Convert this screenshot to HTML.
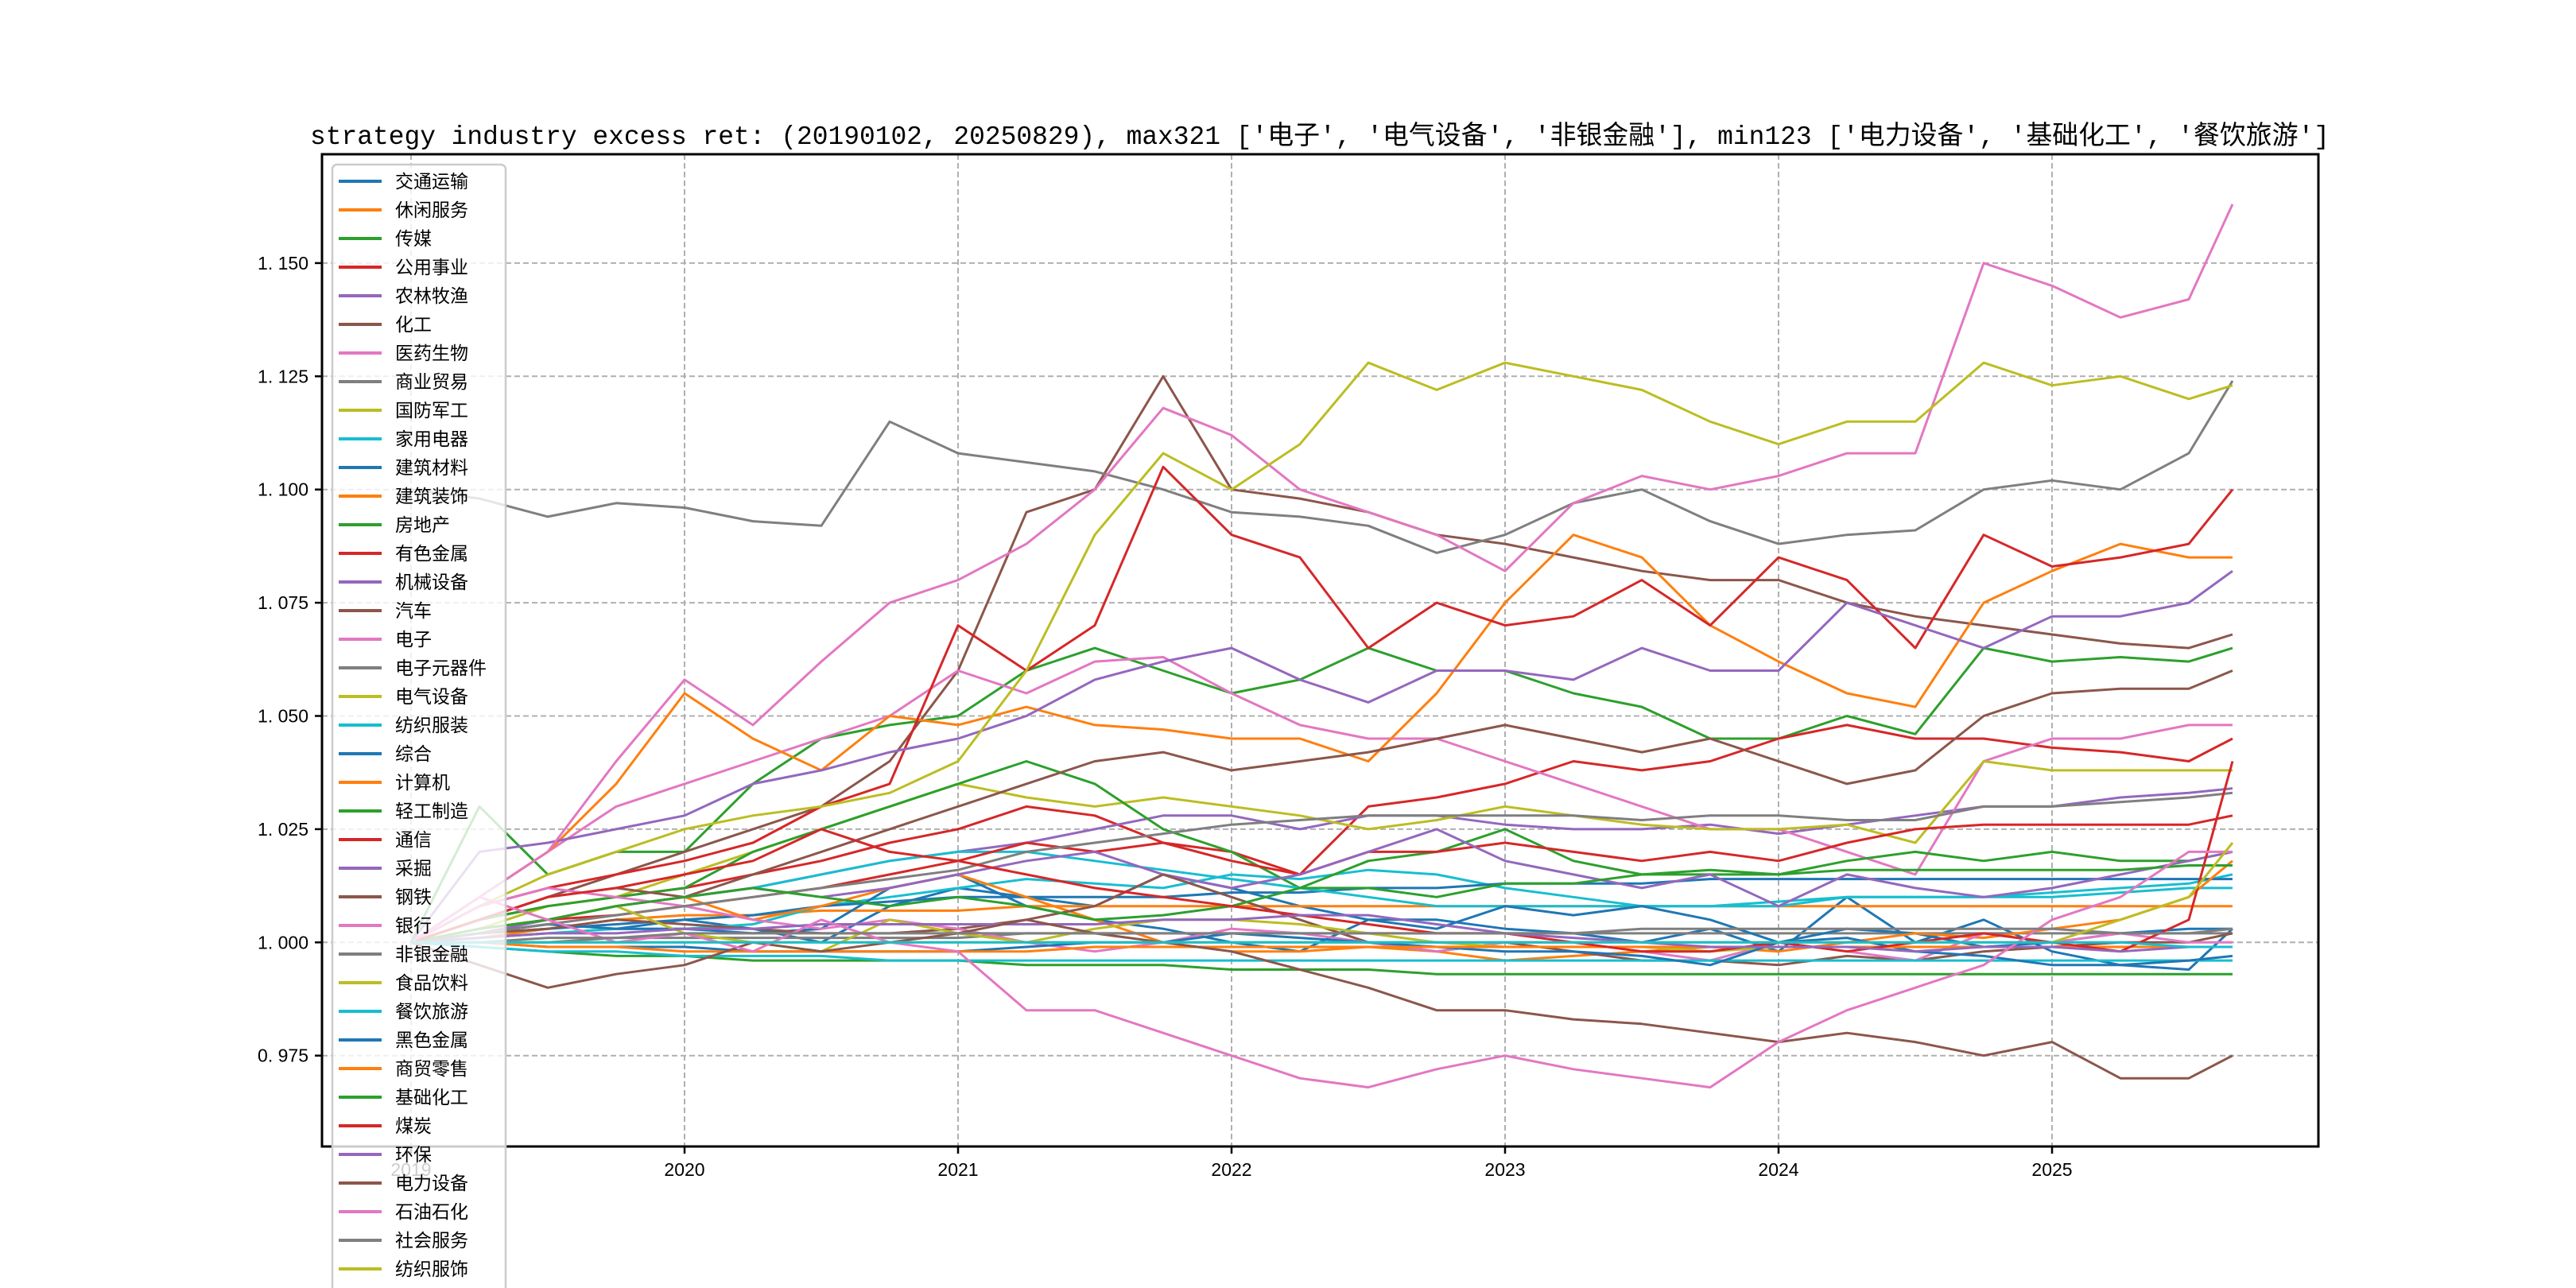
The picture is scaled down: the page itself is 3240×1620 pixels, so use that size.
<!DOCTYPE html>
<html><head><meta charset="utf-8">
<style>
html,body{margin:0;padding:0;background:#fff;}
svg{display:block;}
</style></head>
<body>
<svg id="chart" width="3240" height="1620" viewBox="0 0 3240 1620" xmlns="http://www.w3.org/2000/svg">
<rect x="0" y="0" width="3240" height="1620" fill="#fff"/>
<text x="1660" y="181" text-anchor="middle" font-size="33" textLength="2540" lengthAdjust="spacingAndGlyphs" font-family="'Liberation Mono','Noto Sans CJK SC',monospace" fill="#000">strategy industry excess ret: (20190102, 20250829), max321 ['电子', '电气设备', '非银金融'], min123 ['电力设备', '基础化工', '餐饮旅游']</text>
<g id="grid"></g>
<g id="series"></g>
<g id="axes"></g>
<g id="legend"></g>
</svg>
<script>
const dates = [2019.0,2019.25,2019.5,2019.75,2020.0,2020.25,2020.5,2020.75,2021.0,2021.25,2021.5,2021.75,2022.0,2022.25,2022.5,2022.75,2023.0,2023.25,2023.5,2023.75,2024.0,2024.25,2024.5,2024.75,2025.0,2025.25,2025.5,2025.66];
const yTicks = [0.975,1.000,1.025,1.050,1.075,1.100,1.125,1.150];
const yTickLabels = ["0. 975","1. 000","1. 025","1. 050","1. 075","1. 100","1. 125","1. 150"];
const xTicks = [2019,2020,2021,2022,2023,2024,2025];
const xTickLabels = ["2019","2020","2021","2022","2023","2024","2025"];
const names = ["交通运输","休闲服务","传媒","公用事业","农林牧渔","化工","医药生物","商业贸易","国防军工","家用电器","建筑材料","建筑装饰","房地产","有色金属","机械设备","汽车","电子","电子元器件","电气设备","纺织服装","综合","计算机","轻工制造","通信","采掘","钢铁","银行","非银金融","食品饮料","餐饮旅游","黑色金属","商贸零售","基础化工","煤炭","环保","电力设备","石油石化","社会服务","纺织服饰","美容护理"];
const s00 = [1.000,1.002,1.004,1.003,1.005,1.003,1.000,1.008,1.012,1.010,1.008,1.015,1.012,1.008,1.005,1.005,1.003,1.002,1.000,1.003,0.998,1.010,1.000,1.005,0.998,0.995,0.994,1.003];
const s01 = [1.000,1.001,1.003,1.005,1.006,1.006,1.007,1.007,1.007,1.008,1.008,1.008,1.008,1.008,1.008,1.008,1.008,1.008,1.008,1.008,1.008,1.008,1.008,1.008,1.008,1.008,1.008,1.008];
const s02 = [1.000,1.030,1.015,1.020,1.020,1.035,1.045,1.048,1.050,1.060,1.065,1.060,1.055,1.058,1.065,1.060,1.060,1.055,1.052,1.045,1.045,1.050,1.046,1.065,1.062,1.063,1.062,1.065];
const s03 = [1.000,1.005,1.008,1.010,1.012,1.015,1.018,1.022,1.025,1.030,1.028,1.022,1.020,1.015,1.030,1.032,1.035,1.040,1.038,1.040,1.045,1.048,1.045,1.045,1.043,1.042,1.040,1.045];
const s04 = [1.000,1.002,1.005,1.008,1.010,1.012,1.015,1.018,1.020,1.022,1.025,1.028,1.028,1.025,1.028,1.028,1.026,1.025,1.025,1.026,1.024,1.026,1.028,1.030,1.030,1.032,1.033,1.034];
const s05 = [1.000,1.005,1.010,1.015,1.020,1.025,1.030,1.040,1.060,1.095,1.100,1.125,1.100,1.098,1.095,1.090,1.088,1.085,1.082,1.080,1.080,1.075,1.072,1.070,1.068,1.066,1.065,1.068];
const s06 = [1.000,1.010,1.020,1.030,1.035,1.040,1.045,1.050,1.060,1.055,1.062,1.063,1.055,1.048,1.045,1.045,1.040,1.035,1.030,1.025,1.025,1.020,1.015,1.040,1.045,1.045,1.048,1.048];
const s07 = [1.100,1.098,1.094,1.097,1.096,1.093,1.092,1.115,1.108,1.106,1.104,1.100,1.095,1.094,1.092,1.086,1.090,1.097,1.100,1.093,1.088,1.090,1.091,1.100,1.102,1.100,1.108,1.124];
const s08 = [1.000,1.003,1.008,1.010,1.015,1.020,1.025,1.030,1.035,1.032,1.030,1.032,1.030,1.028,1.025,1.027,1.030,1.028,1.026,1.025,1.025,1.026,1.022,1.040,1.038,1.038,1.038,1.038];
const s09 = [1.000,1.001,1.002,1.003,1.003,1.004,1.008,1.010,1.012,1.014,1.013,1.012,1.015,1.014,1.016,1.015,1.012,1.010,1.008,1.008,1.008,1.010,1.010,1.010,1.011,1.012,1.013,1.015];
const s10 = [1.000,1.002,1.003,1.004,1.005,1.006,1.008,1.009,1.010,1.010,1.010,1.010,1.011,1.011,1.012,1.012,1.013,1.013,1.013,1.014,1.014,1.014,1.014,1.014,1.014,1.014,1.014,1.014];
const s11 = [1.000,1.010,1.020,1.035,1.055,1.045,1.038,1.050,1.048,1.052,1.048,1.047,1.045,1.045,1.040,1.055,1.075,1.090,1.085,1.070,1.062,1.055,1.052,1.075,1.082,1.088,1.085,1.085];
const s12 = [1.000,1.005,1.008,1.010,1.012,1.020,1.025,1.030,1.035,1.040,1.035,1.025,1.020,1.012,1.018,1.020,1.025,1.018,1.015,1.015,1.015,1.018,1.020,1.018,1.020,1.018,1.018,1.020];
const s13 = [1.000,1.008,1.012,1.015,1.018,1.022,1.030,1.035,1.070,1.060,1.070,1.105,1.090,1.085,1.065,1.075,1.070,1.072,1.080,1.070,1.085,1.080,1.065,1.090,1.083,1.085,1.088,1.100];
const s14 = [1.000,1.020,1.022,1.025,1.028,1.035,1.038,1.042,1.045,1.050,1.058,1.062,1.065,1.058,1.053,1.060,1.060,1.058,1.065,1.060,1.060,1.075,1.070,1.065,1.072,1.072,1.075,1.082];
const s15 = [1.000,1.005,1.010,1.012,1.010,1.015,1.020,1.025,1.030,1.035,1.040,1.042,1.038,1.040,1.042,1.045,1.048,1.045,1.042,1.045,1.040,1.035,1.038,1.050,1.055,1.056,1.056,1.060];
const s16 = [1.000,1.010,1.020,1.040,1.058,1.048,1.062,1.075,1.080,1.088,1.100,1.118,1.112,1.100,1.095,1.090,1.082,1.097,1.103,1.100,1.103,1.108,1.108,1.150,1.145,1.138,1.142,1.163];
const s17 = [1.000,1.000,1.000,1.001,1.001,1.001,1.001,1.001,1.001,1.002,1.002,1.002,1.002,1.002,1.002,1.002,1.002,1.002,1.002,1.002,1.002,1.002,1.002,1.002,1.002,1.002,1.002,1.002];
const s18 = [1.000,1.008,1.015,1.020,1.025,1.028,1.030,1.033,1.040,1.060,1.090,1.108,1.100,1.110,1.128,1.122,1.128,1.125,1.122,1.115,1.110,1.115,1.115,1.128,1.123,1.125,1.120,1.123];
const s19 = [1.000,1.003,1.005,1.008,1.010,1.012,1.015,1.018,1.020,1.020,1.018,1.016,1.014,1.012,1.010,1.008,1.008,1.008,1.008,1.008,1.009,1.010,1.010,1.010,1.010,1.011,1.012,1.012];
const s20 = [1.000,1.002,1.004,1.003,1.003,1.002,1.003,1.012,1.015,1.008,1.005,1.003,1.000,0.998,1.005,1.003,1.008,1.006,1.008,1.005,1.000,1.003,1.002,0.999,1.000,1.002,1.003,1.003];
const s21 = [1.000,1.003,1.005,1.008,1.010,1.005,1.008,1.012,1.015,1.010,1.005,1.000,0.998,0.998,0.999,0.998,0.996,0.997,0.998,0.999,0.998,1.000,1.002,1.001,1.003,1.005,1.010,1.018];
const s22 = [1.000,0.999,0.998,0.997,0.997,0.996,0.996,0.996,0.996,0.995,0.995,0.995,0.994,0.994,0.994,0.993,0.993,0.993,0.993,0.993,0.993,0.993,0.993,0.993,0.993,0.993,0.993,0.993];
const s23 = [1.000,1.003,1.005,1.006,1.008,1.010,1.012,1.015,1.018,1.022,1.020,1.022,1.018,1.015,1.020,1.020,1.022,1.020,1.018,1.020,1.018,1.022,1.025,1.026,1.026,1.026,1.026,1.028];
const s24 = [1.000,1.003,1.005,1.008,1.010,1.012,1.010,1.012,1.015,1.018,1.020,1.015,1.012,1.015,1.020,1.025,1.018,1.015,1.012,1.015,1.008,1.015,1.012,1.010,1.012,1.015,1.018,1.020];
const s25 = [1.000,1.002,1.003,1.005,1.004,1.003,1.002,1.002,1.003,1.005,1.008,1.015,1.010,1.005,1.000,0.998,1.000,0.998,0.996,0.996,0.995,0.997,0.996,0.998,0.999,1.000,1.000,1.002];
const s26 = [1.000,1.008,1.012,1.010,1.008,1.005,1.003,1.005,1.003,1.000,0.998,1.000,1.003,1.002,1.000,0.998,1.000,1.000,0.998,0.996,1.000,0.998,0.996,1.002,1.000,1.002,1.000,1.000];
const s27 = [1.000,1.002,1.004,1.006,1.008,1.010,1.012,1.014,1.016,1.020,1.022,1.024,1.026,1.027,1.028,1.028,1.028,1.028,1.027,1.028,1.028,1.027,1.027,1.030,1.030,1.031,1.032,1.033];
const s28 = [1.000,1.003,1.005,1.008,1.002,1.000,0.998,1.005,1.002,1.000,1.003,1.005,1.005,1.004,1.002,1.000,0.999,0.999,0.999,0.998,0.999,0.999,0.999,0.999,0.999,0.999,0.999,0.999];
const s29 = [1.000,0.999,0.998,0.998,0.997,0.997,0.997,0.996,0.996,0.996,0.996,0.996,0.996,0.996,0.996,0.996,0.996,0.996,0.996,0.996,0.996,0.996,0.996,0.996,0.996,0.996,0.996,0.996];
const s30 = [1.000,1.000,0.999,0.999,0.999,0.998,0.998,0.998,0.998,0.999,1.000,1.000,1.002,1.001,1.000,0.999,0.998,0.998,0.997,0.995,1.000,1.001,0.998,0.997,0.995,0.995,0.996,0.997];
const s31 = [1.000,1.000,0.999,0.999,0.998,0.998,0.998,0.998,0.998,0.998,0.999,0.999,0.999,0.999,0.999,0.999,0.999,0.999,0.999,0.999,0.999,0.999,0.999,0.999,0.999,0.999,0.999,0.999];
const s32 = [1.000,1.003,1.005,1.008,1.010,1.012,1.010,1.008,1.010,1.008,1.005,1.006,1.008,1.012,1.012,1.010,1.013,1.013,1.015,1.016,1.015,1.016,1.016,1.016,1.016,1.016,1.017,1.017];
const s33 = [1.000,1.005,1.010,1.012,1.015,1.018,1.025,1.020,1.018,1.015,1.012,1.010,1.008,1.006,1.004,1.002,1.002,1.000,0.998,0.998,1.000,0.998,1.000,1.002,1.000,0.998,1.005,1.040];
const s34 = [1.000,1.001,1.002,1.002,1.003,1.003,1.004,1.004,1.004,1.004,1.004,1.005,1.005,1.006,1.006,1.004,1.002,1.001,1.000,0.999,0.999,0.999,0.998,0.999,0.999,0.998,0.999,0.999];
const s35 = [1.000,0.995,0.990,0.993,0.995,1.000,0.998,1.000,1.002,1.005,1.002,1.000,0.998,0.994,0.990,0.985,0.985,0.983,0.982,0.980,0.978,0.980,0.978,0.975,0.978,0.970,0.970,0.975];
const s36 = [1.000,1.010,1.005,1.000,1.002,0.998,1.005,1.000,0.998,0.985,0.985,0.980,0.975,0.970,0.968,0.972,0.975,0.972,0.970,0.968,0.978,0.985,0.990,0.995,1.005,1.010,1.020,1.020];
const s37 = [1.000,1.000,1.001,1.001,1.002,1.002,1.002,1.002,1.002,1.002,1.002,1.002,1.002,1.002,1.002,1.002,1.002,1.002,1.003,1.003,1.003,1.003,1.003,1.003,1.003,1.002,1.002,1.003];
const s38 = [1.000,1.000,1.000,1.000,1.000,1.000,1.000,1.000,1.000,1.000,1.000,1.000,1.000,1.000,1.000,1.000,1.000,1.000,1.000,1.000,1.000,1.000,1.000,1.000,1.000,1.005,1.010,1.022];
const s39 = [1.000,1.000,1.000,1.000,1.000,1.000,1.000,1.000,1.000,1.000,1.000,1.000,1.000,1.000,1.000,1.000,1.000,1.000,1.000,1.000,1.000,1.000,1.000,1.000,1.000,1.000,0.999,0.999];
const seriesValues = [s00,s01,s02,s03,s04,s05,s06,s07,s08,s09,s10,s11,s12,s13,s14,s15,s16,s17,s18,s19,s20,s21,s22,s23,s24,s25,s26,s27,s28,s29,s30,s31,s32,s33,s34,s35,s36,s37,s38,s39];

const NS = "http://www.w3.org/2000/svg";
const colors = ["#1f77b4","#ff7f0e","#2ca02c","#d62728","#9467bd","#8c564b","#e377c2","#7f7f7f","#bcbd22","#17becf"];
const AX = {left:405, right:2916, top:194, bottom:1442};
// x: 2020-01-01 at 861, 344 px per year
function xScale(yr){ return 861 + (yr - 2020) * 344; }
// y: 1.000 at 1185.3, 0.025 per 142.4px
function yScale(v){ return 1185.3 - (v - 1) * 5696; }

function mk(tag, attrs, parent){
  const el = document.createElementNS(NS, tag);
  for (const k in attrs) el.setAttribute(k, attrs[k]);
  parent.appendChild(el);
  return el;
}
const grid = document.getElementById('grid');
const series = document.getElementById('series');
const axes = document.getElementById('axes');
const legend = document.getElementById('legend');

// grid
xTicks.forEach((t,i)=>{
  const x = xScale(t);
  const l = mk('line',{x1:x,x2:x,y1:AX.top,y2:AX.bottom,stroke:'#b0b0b0','stroke-width':2,'stroke-dasharray':'7,4'},grid);
  
  
});
yTicks.forEach((t,i)=>{
  const y = yScale(t);
  const l = mk('line',{x1:AX.left,x2:AX.right,y1:y,y2:y,stroke:'#b0b0b0','stroke-width':2,'stroke-dasharray':'7,4'},grid);
  
  
});

// series
seriesValues.forEach((vals,i)=>{
  const pts = vals.map((v,j)=> xScale(dates[j]).toFixed(1)+','+yScale(v).toFixed(1)).join(' ');
  const pl = mk('polyline',{points:pts,fill:'none',stroke:colors[i%10],'stroke-width':3,'stroke-linejoin':'round'},series);
  
  
});

// axes frame + ticks
const frame = mk('rect',{x:AX.left,y:AX.top,width:AX.right-AX.left,height:AX.bottom-AX.top,fill:'none',stroke:'#000','stroke-width':3},axes);


yTicks.forEach((t,i)=>{
  const y = yScale(t);
  const tk = mk('line',{x1:AX.left-9,x2:AX.left,y1:y,y2:y,stroke:'#000','stroke-width':2.5},axes);
  
  
  const tx = mk('text',{x:AX.left-17,y:y+8,'text-anchor':'end','font-size':23,'font-family':"'Liberation Sans','Noto Sans CJK SC',sans-serif",fill:'#000'},axes);
  tx.textContent = yTickLabels[i];
  
  
});
xTicks.forEach((t,i)=>{
  const x = xScale(t);
  const tk = mk('line',{x1:x,x2:x,y1:AX.bottom,y2:AX.bottom+9,stroke:'#000','stroke-width':2.5},axes);
  
  
  const tx = mk('text',{x:x,y:AX.bottom+37,'text-anchor':'middle','font-size':23,'font-family':"'Liberation Sans','Noto Sans CJK SC',sans-serif",fill:'#000'},axes);
  tx.textContent = xTickLabels[i];
  
  
});

// legend
const lgX = 418, lgY = 207, lgW = 218, rowH = 36, firstY = 228;
const box = mk('rect',{x:lgX,y:lgY,width:lgW,height:firstY+names.length*rowH-lgY,rx:6,fill:'#fff','fill-opacity':0.8,stroke:'#cccccc','stroke-width':2.5},legend);


names.forEach((n,i)=>{
  const y = firstY + i*rowH;
  const ln = mk('line',{x1:lgX+8,x2:lgX+62,y1:y,y2:y,stroke:colors[i%10],'stroke-width':4},legend);
  
  
  const tx = mk('text',{x:lgX+79,y:y+8,'font-size':23,'font-family':"'Liberation Sans','Noto Sans CJK SC',sans-serif",fill:'#000'},legend);
  tx.textContent = n;
  
  
});
</script>
</body></html>
